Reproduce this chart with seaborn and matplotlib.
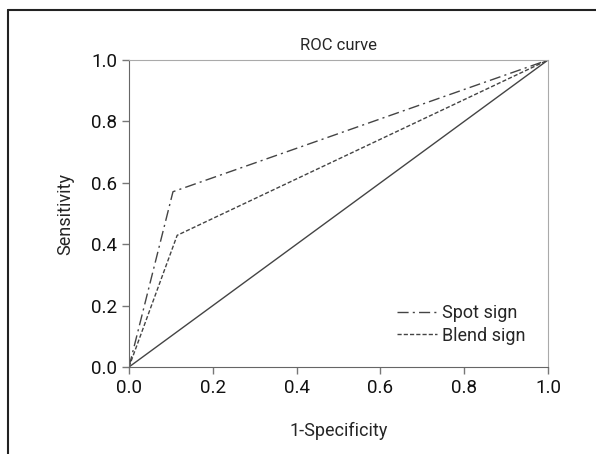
import matplotlib.pyplot as plt
import pandas as pd
import seaborn as sns
from matplotlib.lines import Line2D

# ROC points
spot_fpr = [0.0, 0.105, 1.0]
spot_tpr = [0.0, 0.571, 1.0]
blend_fpr = [0.0, 0.115, 1.0]
blend_tpr = [0.0, 0.429, 1.0]
ref_x = [0.0, 1.0]
ref_y = [0.0, 1.0]
ticks = [0.0, 0.2, 0.4, 0.6, 0.8, 1.0]

sns.set_style('white')
plt.rcParams['font.family'] = ['Liberation Sans Narrow', 'Roboto', 'DejaVu Sans']

df = pd.concat([
    pd.DataFrame({'fpr': spot_fpr, 'tpr': spot_tpr, 'sign': 'Spot sign'}),
    pd.DataFrame({'fpr': blend_fpr, 'tpr': blend_tpr, 'sign': 'Blend sign'}),
])

fig = plt.figure(figsize=(5.96, 4.54), dpi=100)
ax = fig.add_axes([0.2164, 0.1916, 0.7031, 0.6762])

sns.lineplot(data=df, x='fpr', y='tpr', style='sign', sort=False,
             dashes={'Spot sign': (8, 3, 1.5, 3), 'Blend sign': (3, 1.5)},
             color='#444444', lw=1, ax=ax, estimator=None)
sns.lineplot(x=ref_x, y=ref_y, color='#444444', lw=1, ax=ax)

ax.set_xlim(0, 1)
ax.set_ylim(0, 1)
ax.set_xticks(ticks)
ax.set_yticks(ticks)
ax.set_xticklabels([f'{t:.1f}' for t in ticks])
ax.set_yticklabels([f'{t:.1f}' for t in ticks])
ax.tick_params(direction='out', length=5, width=1, colors='#777777',
               labelcolor='#111111', labelsize=13.5, left=True, bottom=True)
for side in ['left', 'bottom']:
    ax.spines[side].set_color('#666666')
for side in ['top', 'right']:
    ax.spines[side].set_color('#aaaaaa')

ax.set_title('ROC curve', fontsize=12, pad=7)
ax.set_xlabel('1-Specificity', fontsize=13, labelpad=18)
ax.set_ylabel('Sensitivity', fontsize=13, labelpad=12)

leg = ax.legend(loc='lower right', bbox_to_anchor=(0.985, 0.02), frameon=False,
                fontsize=13, handlelength=2.2, handletextpad=0.3,
                labelspacing=0.25, title=None)

# outer frame (top and left edges)
fig.add_artist(Line2D([8 / 596, 1.0], [1 - 10 / 454, 1 - 10 / 454],
                      color='#222222', lw=1.5, transform=fig.transFigure))
fig.add_artist(Line2D([8 / 596, 8 / 596], [0.0, 1 - 10 / 454],
                      color='#222222', lw=1.5, transform=fig.transFigure))

fig.savefig('out.png', dpi=100)
